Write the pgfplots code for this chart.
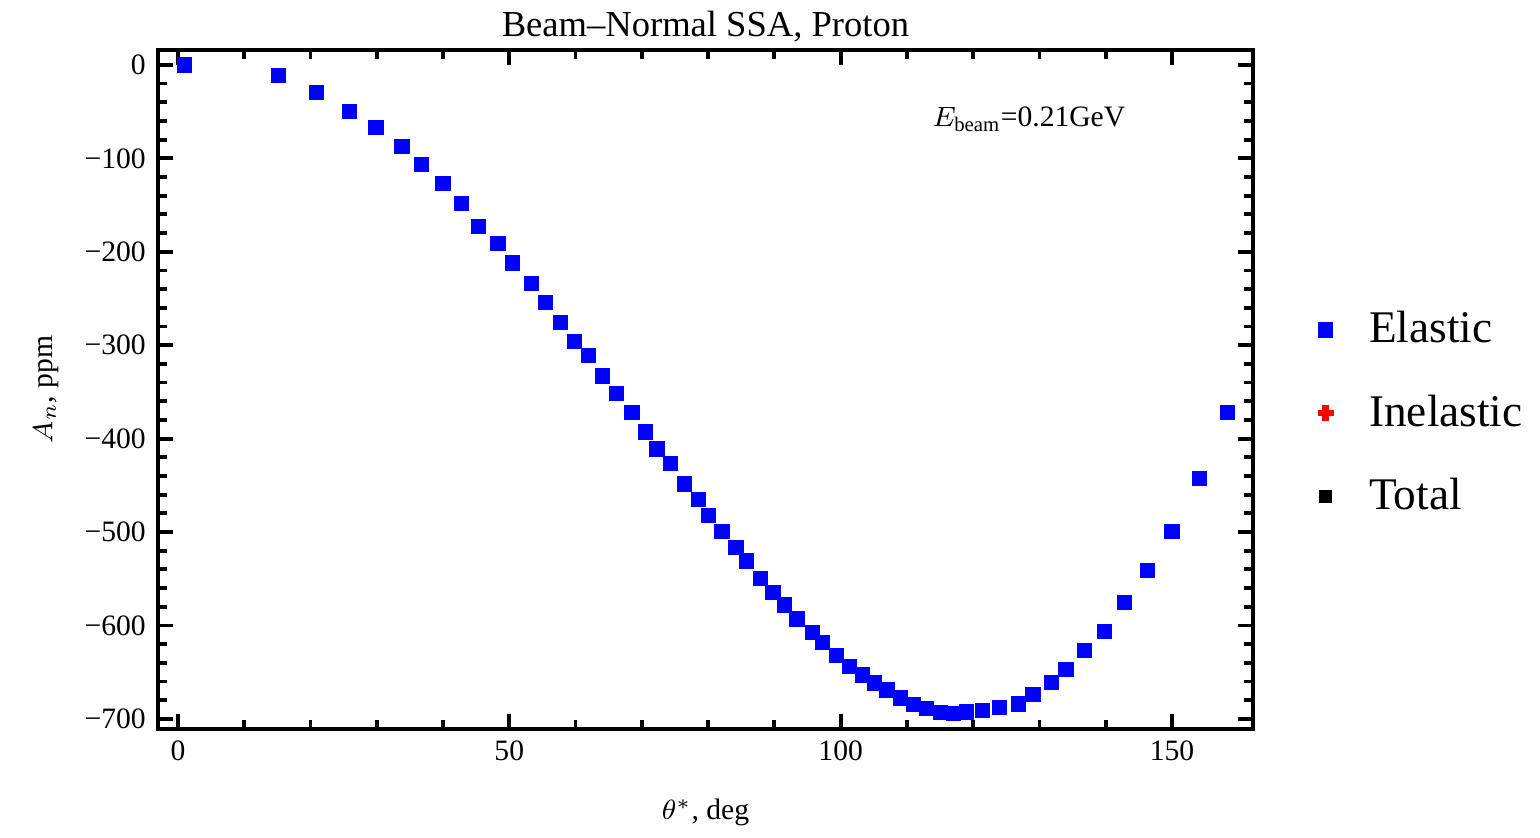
\documentclass[border=0pt]{standalone}
\usepackage{fontspec}
\setmainfont{Liberation Serif}
\usepackage{pgfplots}
\pgfplotsset{compat=1.18}

\pgfplotstableread{
x y
1 0
15.2 -11.7
20.9 -29.7
25.9 -49.8
29.9 -66.8
33.8 -87
36.8 -107
40 -127
42.8 -148.5
45.4 -173
48.3 -191
50.5 -212
53.4 -234
55.5 -254.5
57.7 -275.7
59.8 -296
62 -310.7
64.1 -333
66.2 -352
68.5 -372
70.6 -393
72.3 -411
74.3 -427
76.4 -448.6
78.5 -465.5
80.1 -482.5
82.1 -499.5
84.2 -516.4
85.8 -531
87.9 -550
89.8 -565
91.5 -578
93.4 -593
95.7 -607.6
97.3 -618
99.4 -632
101.3 -643.7
103.3 -653
105.1 -661.7
107 -669
109 -677.6
111 -685
113 -689
115.1 -693.5
117 -694.6
119 -692.5
121.4 -691
124 -688
126.8 -684
129 -674
131.8 -661
134 -647
136.8 -627
139.8 -606.6
142.8 -575.8
146.3 -541
150 -499.5
154.1 -443
158.4 -372
}\elastic

\begin{document}
\begin{tikzpicture}
\begin{axis}[
    scale only axis,
    width=110.5mm, height=68.5mm,
    xmin=-3, xmax=162.2,
    ymin=-710.6, ymax=15.9,
    xtick={0,50,100,150},
    ytick={-700,-600,-500,-400,-300,-200,-100,0},
    yticklabels={−700,−600,−500,−400,−300,−200,−100,0},
    minor x tick num=4,
    minor y tick num=4,
    tick align=inside,
    major tick length=1.5mm,
    minor tick length=0.9mm,
    axis line style={line width=1.1pt},
    every tick/.style={black, line width=1.1pt},
    ticklabel style={font=\fontsize{8.5}{10}\selectfont},
    /pgf/number format/assume math mode=true,
    title={Beam–Normal SSA, Proton},
    title style={font=\fontsize{10.5}{12}\selectfont, yshift=-2.6mm},
    xlabel={$\theta^{*}$, deg},
    ylabel={$A_n$, ppm},
    xlabel style={font=\fontsize{8.5}{10}\selectfont, yshift=-1.4mm},
    ylabel style={font=\fontsize{8.5}{10}\selectfont, yshift=0.2mm},
    legend style={draw=none, fill=none, at={(1.049,0.465)}, anchor=west,
        font=\fontsize{13}{15}\selectfont, row sep=3.3mm,
        /tikz/every odd column/.append style={column sep=2.9mm}},
    legend cell align=left,
    clip=false,
]
\addplot[only marks, mark=square*, mark size=0.7mm, draw=blue, fill=blue] table[x=x,y=y] {\elastic};
\addlegendentry{Elastic}
\addlegendimage{only marks, mark=+, mark size=0.8mm, red, line width=1.8pt}
\addlegendentry{Inelastic}
\addlegendimage{only marks, mark=square*, mark size=0.6mm, black}
\addlegendentry{Total}
\node[font=\fontsize{8.5}{10}\selectfont] at (axis cs:128.4,-58) {$E_{\mathrm{beam}}$=0.21GeV};
\end{axis}
\path (current bounding box.west) ++(-2.2mm,0) coordinate (padleft);
\end{tikzpicture}
\end{document}
